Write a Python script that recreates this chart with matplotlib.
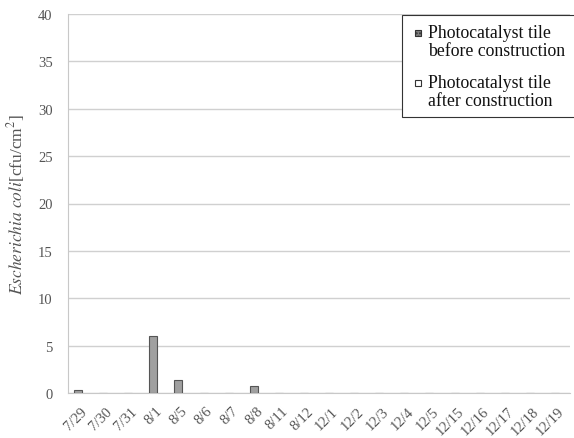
import matplotlib.pyplot as plt
import numpy as np
from matplotlib.patches import Rectangle

plt.rcParams['font.family'] = ['Liberation Serif', 'DejaVu Serif']
plt.rcParams['mathtext.fontset'] = 'stix'

dates = ['7/29', '7/30', '7/31', '8/1', '8/5', '8/6', '8/7', '8/8', '8/11', '8/12',
         '12/1', '12/2', '12/3', '12/4', '12/5', '12/15', '12/16', '12/17', '12/18', '12/19']
before = [0.3, 0, 0, 6.0, 1.4, 0, 0, 0.7, 0, 0, 0, 0, 0, 0, 0, 0, 0, 0, 0, 0]
after = [0] * 20
labels = ['Photocatalyst tile\nbefore construction', 'Photocatalyst tile\nafter construction']

W, H = 574, 439
fig = plt.figure(figsize=(W / 100, H / 100), dpi=100)
ax = fig.add_axes([68 / W, 45 / H, 502 / W, 379 / H])

x = np.arange(len(dates))
w = 0.32
ax.bar(x - 0.1, before, w, color='#a0a0a0', edgecolor='#555555', linewidth=0.8, zorder=3)
ax.bar(x + 0.1, after, w, color='white', edgecolor='none', linewidth=0, zorder=2)

ax.set_xlim(-0.5, len(dates) - 0.5)
ax.set_ylim(0, 40)
ax.set_yticks(range(0, 41, 5))
ax.yaxis.grid(True, color='#d0d0d0', linewidth=1)
ax.set_axisbelow(True)
for s in ['top', 'right']:
    ax.spines[s].set_visible(False)
ax.spines['left'].set_color('#c8c8c8')
ax.spines['bottom'].set_color('#c8c8c8')
ax.tick_params(length=0, colors='#555555', labelsize=10.5, pad=11)
ax.set_xticks(x)
ax.set_xticklabels(dates, rotation=45, ha='right', rotation_mode='anchor')
ax.tick_params(axis='x', pad=8)
ax.set_ylabel(r'$\it{Escherichia\ coli}$[cfu/cm$^2$]', color='#555555', fontsize=12.5, labelpad=8)

# legend box, drawn by hand so the swatches sit on the first line of each label
fig.patches.append(Rectangle((402 / W, 1 - 118 / H), 180 / W, 102 / H, transform=fig.transFigure,
                             facecolor='white', edgecolor='#333333', linewidth=0.8, zorder=5))
swatch = [dict(facecolor='#808080', edgecolor='#333333', hatch='.....'),
          dict(facecolor='white', edgecolor='#333333')]
for i, (lab, st) in enumerate(zip(labels, swatch)):
    ytop = 25 + i * 50
    fig.patches.append(Rectangle((415 / W, 1 - (ytop + 12) / H), 6 / W, 6 / H, transform=fig.transFigure,
                                 linewidth=0.8, zorder=6, **st))
    fig.text(428 / W, 1 - ytop / H, lab, fontsize=12.8, va='top', ha='left', color='#111111',
             linespacing=1.1, zorder=6)

fig.savefig('out.png', dpi=100)
